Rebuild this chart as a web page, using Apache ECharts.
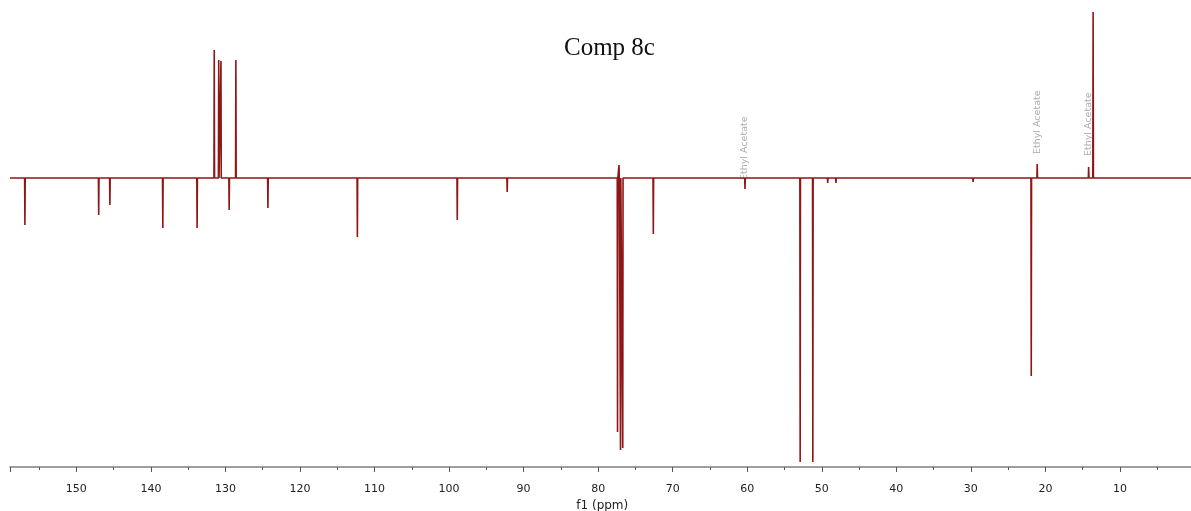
<!DOCTYPE html>
<html>
<head>
<meta charset="utf-8">
<script src="https://cdn.jsdelivr.net/npm/echarts@6/dist/echarts.min.js"></script>
<style>html,body{margin:0;padding:0;background:#fff;}#c{width:1191px;height:511px;}</style>
</head>
<body>
<div id="c"></div>
<script>
// Chemical shifts (ppm) and signed intensities (arbitrary units, + up / - down)
const peakPpm    = [156.9, 147.0, 145.5, 138.4, 133.8, 131.5, 130.9, 130.6, 129.5, 128.6, 124.3, 112.3, 98.9, 92.2, 77.4, 77.2, 77.0, 76.7, 72.6, 60.3, 52.9, 51.2, 49.2, 48.1, 29.7, 21.9, 21.1, 14.2, 13.6];
const peakHeight = [-47,   -37,   -27,   -50,   -50,   128,   118,   117,   -32,   118,   -30,   -59,   -42,  -14,  -254, 13,   -272, -270, -56,  -11,  -284, -284, -5,   -5,   -4,   -198, 14,   11,   166];
const xRange = [0, 158.9];
const yRange = [-289, 178];
const labelPpm   = [60.3, 21.1, 14.2];
const labelPos   = [-2, 24, 22];
const labelText  = ['Ethyl Acetate', 'Ethyl Acetate', 'Ethyl Acetate'];
const titleText = 'Comp 8c';
const axisName = 'f1 (ppm)';

const w = 0.04;
const spectrum = [[xRange[1], 0]];
peakPpm.forEach((p, i) => {
  spectrum.push([p + w, 0], [p, peakHeight[i]], [p - w, 0]);
});
spectrum.push([xRange[0], 0]);

const labels = labelPpm.map((p, i) => ({ value: [p, labelPos[i]], name: labelText[i] }));

const chart = echarts.init(document.getElementById('c'), null, { renderer: 'canvas' });
chart.setOption({
  animation: false,
  backgroundColor: '#ffffff',
  title: {
    text: titleText,
    left: 564, top: 36, padding: 0,
    textStyle: { fontFamily: 'Liberation Serif', fontSize: 25, fontWeight: 'normal', color: '#111' }
  },
  grid: { left: 10, right: -3.5, top: 0, bottom: 44, containLabel: false, outerBoundsMode: 'none' },
  xAxis: {
    type: 'value', inverse: true, min: xRange[0], max: xRange[1], interval: 10,
    name: axisName, nameLocation: 'middle', nameGap: 26,
    nameTextStyle: { fontFamily: 'DejaVu Sans', fontSize: 12, color: '#222' },
    axisLine: { show: true, onZero: false, lineStyle: { color: '#808080', width: 1.5 } },
    axisTick: { show: true, length: 5, inside: false, lineStyle: { color: '#555', width: 1 } },
    minorTick: { show: true, splitNumber: 2, length: 3, lineStyle: { color: '#555', width: 1 } },
    axisLabel: { margin: 17, fontFamily: 'DejaVu Sans', fontSize: 11, color: '#222', showMinLabel: false, showMaxLabel: false },
    splitLine: { show: false }
  },
  yAxis: {
    type: 'value', min: yRange[0], max: yRange[1], show: false, splitLine: { show: false }
  },
  series: [
    {
      type: 'line', data: spectrum, showSymbol: false, symbol: 'none',
      lineStyle: { color: '#8e1616', width: 1.6 }, silent: true, clip: true
    },
    {
      type: 'scatter', data: labels, symbolSize: 0, silent: true,
      label: {
        show: true, formatter: '{b}', position: [0, 0], rotate: 90,
        align: 'left', verticalAlign: 'middle',
        fontFamily: 'DejaVu Sans', fontSize: 9.5, color: '#999'
      }
    }
  ]
});
</script>
</body>
</html>
